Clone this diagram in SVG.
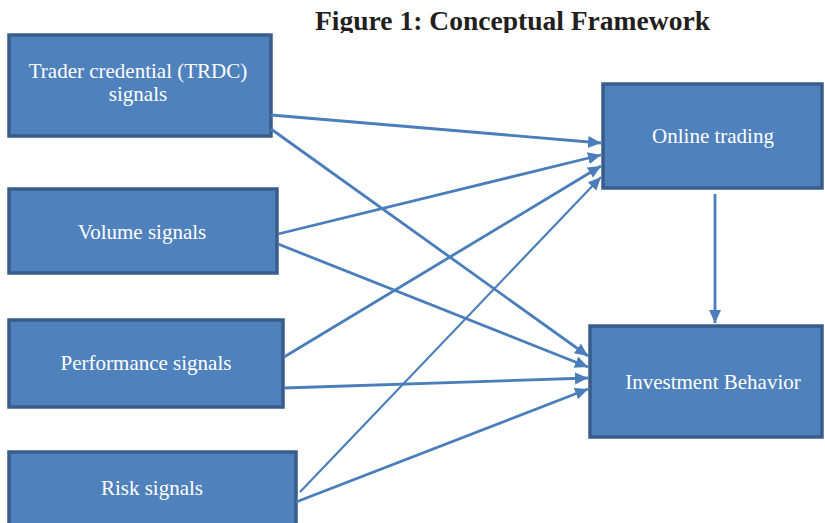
<svg xmlns="http://www.w3.org/2000/svg" width="825" height="523" viewBox="0 0 825 523">
<style>
.box{fill:#4F81BD;stroke:#385D8A;stroke-width:3.5}
.lbl{font-family:"Liberation Serif","Times New Roman",serif;font-size:21px;fill:#FFFFFF;text-anchor:middle}
.title{font-family:"Liberation Serif","Times New Roman",serif;font-size:27px;font-weight:bold;fill:#231F20}
.con{stroke:#4A7EBB;stroke-width:2.8;fill:none;marker-end:url(#ah)}
</style>
<defs>
<marker id="ah" markerUnits="userSpaceOnUse" markerWidth="14" markerHeight="14" refX="13" refY="6" orient="auto">
<path d="M0,0 L13,6 L0,12 Z" fill="#4A7EBB"/>
</marker>
<clipPath id="tclip"><rect x="0" y="0" width="825" height="33"/></clipPath>
</defs>
<rect x="0" y="0" width="825" height="523" fill="#FFFFFF"/>
<text class="title" x="315" y="30" textLength="395" lengthAdjust="spacingAndGlyphs" clip-path="url(#tclip)">Figure 1: Conceptual Framework</text>
<g id="n-trdc">
<rect class="box" x="9" y="35" width="262" height="101"/>
<text class="lbl" x="138" y="78">Trader credential (TRDC)</text>
<text class="lbl" x="138" y="101">signals</text>
</g>
<g id="n-volume">
<rect class="box" x="9" y="189" width="268" height="84"/>
<text class="lbl" x="142" y="239">Volume signals</text>
</g>
<g id="n-performance">
<rect class="box" x="9" y="320" width="274" height="87"/>
<text class="lbl" x="146" y="370">Performance signals</text>
</g>
<g id="n-risk">
<rect class="box" x="9" y="452" width="287" height="80"/>
<text class="lbl" x="152" y="495">Risk signals</text>
</g>
<g id="n-online">
<rect class="box" x="603" y="84" width="219" height="104"/>
<text class="lbl" x="713" y="143">Online trading</text>
</g>
<g id="n-invest">
<rect class="box" x="590" y="326" width="232" height="111"/>
<text class="lbl" x="713" y="389">Investment Behavior</text>
</g>
<g id="connectors">
<line class="con" x1="271" y1="115" x2="601" y2="143"/>
<line class="con" x1="271" y1="129" x2="588" y2="356"/>
<line class="con" x1="278" y1="234" x2="601" y2="155"/>
<line class="con" x1="278" y1="244" x2="588" y2="367"/>
<line class="con" x1="284" y1="357" x2="601" y2="166"/>
<line class="con" x1="284" y1="388" x2="588" y2="378"/>
<line class="con" x1="300" y1="492" x2="601" y2="177" style="stroke-width:2.2"/>
<line class="con" x1="296" y1="502" x2="588" y2="389"/>
<line class="con" x1="715" y1="194" x2="715" y2="323"/>
</g>
</svg>
